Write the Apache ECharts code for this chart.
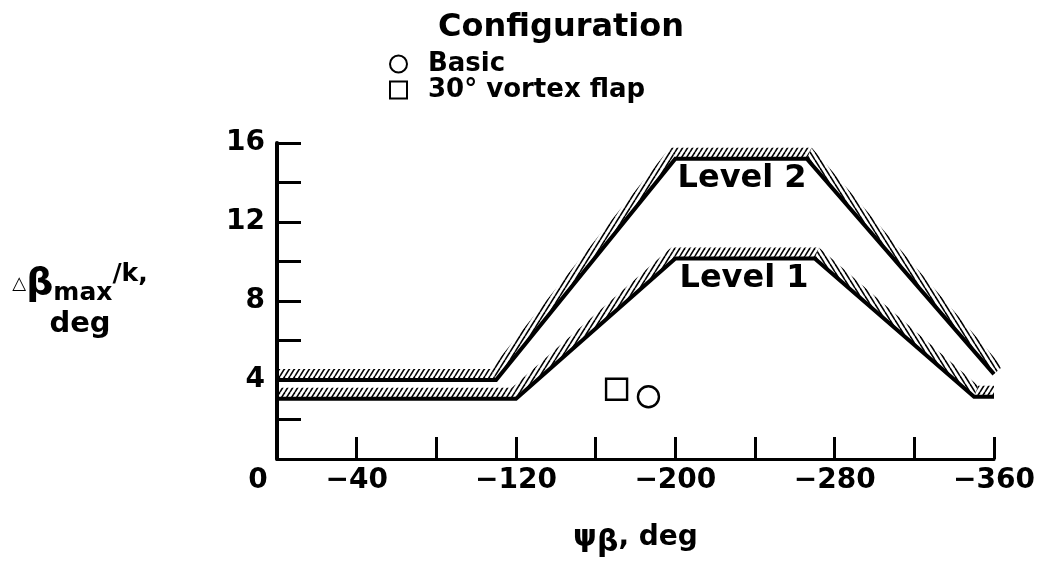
<!DOCTYPE html>
<html>
<head>
<meta charset="utf-8">
<script src="https://cdn.jsdelivr.net/npm/echarts@6/dist/echarts.min.js"></script>
<style>
  html, body { margin: 0; padding: 0; background: #fff; }
  #main { width: 1040px; height: 573px; }
</style>
</head>
<body>
<div id="main"></div>
<script>
// boundary lines (psi in deg, dbeta/k in deg)
const level2 = [[0, 4.0], [-110, 4.0], [-200, 15.2], [-266, 15.2], [-360, 4.3]]
const level1 = [[0, 3.05], [-120, 3.05], [-200, 10.15], [-270, 10.15], [-350, 3.15], [-360, 3.15]]
const basic = [[-186.5, 3.15]]
const vortexFlap = [[-170.5, 3.53]]
const levelNames = ['Level 2', 'Level 1']
const levelLabelPos = [[-233.5, 14.2], [-234.5, 9.15]]
const xTickLabels = [0, -40, -120, -200, -280, -360]
const yTickLabels = [4, 8, 12, 16]

const FONT = 'DejaVu Sans'
const HATCH = 11 // band width in px, outside of the line

// small tiles for the hatched band
function hatch(dir) {
	const w = 5, h = 8
	const c = document.createElement('canvas')
	c.width = w
	c.height = h
	const ctx = c.getContext('2d')
	ctx.strokeStyle = '#000'
	ctx.lineWidth = 1.6
	for (let k = -1; k <= 1; k++) {
		ctx.beginPath()
		if (dir > 0) {
			ctx.moveTo(k * w, h)
			ctx.lineTo(k * w + w, 0)
		} else {
			ctx.moveTo(k * w, 0)
			ctx.lineTo(k * w + w, h)
		}
		ctx.stroke()
	}
	return { image: c, repeat: 'repeat' }
}
const hatchUp = hatch(1)
const hatchDown = hatch(-1)

// hatched band on the outer side of a boundary, one polygon per segment
function bandRenderer(pts) {
	return function (params, api) {
		const i = params.dataIndex
		if (i >= pts.length - 1) return null
		const P = pts.map(p => api.coord(p))
		const normals = []
		for (let k = 0; k < P.length - 1; k++) {
			let dx = P[k + 1][0] - P[k][0], dy = P[k + 1][1] - P[k][1]
			const l = Math.hypot(dx, dy)
			normals.push([dy / l, -dx / l])
		}
		function off(k) {
			if (k === 0) return normals[0].map(v => v * HATCH)
			if (k === P.length - 1) return normals[k - 1].map(v => v * HATCH)
			const a = normals[k - 1], b = normals[k]
			let m = [a[0] + b[0], a[1] + b[1]]
			const l = Math.hypot(m[0], m[1])
			m = [m[0] / l, m[1] / l]
			const len = HATCH / (m[0] * a[0] + m[1] * a[1])
			return [m[0] * len, m[1] * len]
		}
		const o1 = off(i), o2 = off(i + 1)
		const a = P[i], b = P[i + 1]
		const falling = b[1] - a[1] > 0.5
		return {
			type: 'polygon',
			shape: {
				points: [a, b, [b[0] + o2[0], b[1] + o2[1]], [a[0] + o1[0], a[1] + o1[1]]]
			},
			style: { fill: falling ? hatchDown : hatchUp, stroke: null }
		}
	}
}

const chart = echarts.init(document.getElementById('main'))

const option = {
	backgroundColor: '#fff',
	animation: false,
	title: {
		text: 'Configuration',
		left: 433,
		top: 7,
		textStyle: { fontFamily: FONT, fontWeight: 'bold', fontSize: 32, color: '#000' }
	},
	legend: {
		data: ['Basic', '30° vortex flap'],
		orient: 'vertical',
		left: 384,
		top: 46,
		itemWidth: 17,
		itemHeight: 17,
		itemGap: 0,
		textStyle: {
			fontFamily: FONT, fontWeight: 'bold', fontSize: 26, color: '#000',
			lineHeight: 26, padding: [0, 0, 0, 16]
		}
	},
	grid: { left: 277, right: 46, top: 143, bottom: 114 },
	xAxis: {
		type: 'value',
		inverse: true,
		min: -360,
		max: 0,
		interval: 40,
		splitLine: { show: false },
		axisLine: { lineStyle: { color: '#000', width: 3 } },
		axisTick: { inside: true, length: 22, lineStyle: { color: '#000', width: 3 } },
		axisLabel: {
			margin: 8,
			color: '#000',
			fontFamily: FONT,
			fontWeight: 'bold',
			fontSize: 28,
			formatter: function (v) {
				if (xTickLabels.indexOf(v) < 0) return ''
				return v === 0 ? '{z|0}' : '\u2212' + Math.abs(v)
			},
			rich: {
				z: { fontFamily: FONT, fontWeight: 'bold', fontSize: 28, color: '#000', padding: [0, 38, 0, 0] }
			}
		},
		name: '{p|ψ}{b|β}{t|, deg}',
		nameLocation: 'middle',
		nameGap: 59,
		nameTextStyle: {
			rich: {
				p: { fontFamily: FONT, fontWeight: 'bold', fontSize: 30, color: '#000' },
				b: { fontFamily: FONT, fontWeight: 'bold', fontSize: 30, color: '#000', verticalAlign: 'bottom', padding: [10, 0, 0, 0] },
				t: { fontFamily: FONT, fontWeight: 'bold', fontSize: 28, color: '#000' }
			}
		}
	},
	yAxis: {
		type: 'value',
		min: 0,
		max: 16,
		interval: 2,
		splitLine: { show: false },
		axisLine: { lineStyle: { color: '#000', width: 4 } },
		axisTick: { inside: true, length: 24, lineStyle: { color: '#000', width: 3 } },
		axisLabel: {
			margin: 12,
			color: '#000',
			fontFamily: FONT,
			fontWeight: 'bold',
			fontSize: 28,
			formatter: v => (yTickLabels.indexOf(v) >= 0 ? String(v) : '')
		}
	},
	graphic: [{
		type: 'text',
		x: 80,
		y: 262,
		style: {
			text: '{d|△}{b|β}{s|max}{k|/k,}\n{g|deg}',
			align: 'center',
			verticalAlign: 'top',
			fill: '#000',
			rich: {
				d: { fontFamily: FONT, fontSize: 18, fill: '#000', verticalAlign: 'middle' },
				b: { fontFamily: FONT, fontWeight: 'bold', fontSize: 38, fill: '#000', lineHeight: 44 },
				s: { fontFamily: FONT, fontWeight: 'bold', fontSize: 25, fill: '#000', verticalAlign: 'bottom' },
				k: { fontFamily: FONT, fontWeight: 'bold', fontSize: 25, fill: '#000', verticalAlign: 'top' },
				g: { fontFamily: FONT, fontWeight: 'bold', fontSize: 29, fill: '#000', lineHeight: 36 }
			}
		}
	}],
	series: [
		{
			name: 'Level 2 band',
			type: 'custom',
			renderItem: bandRenderer(level2),
			data: level2,
			encode: { x: 0, y: 1 },
			z: 1,
			silent: true
		},
		{
			name: 'Level 1 band',
			type: 'custom',
			renderItem: bandRenderer(level1),
			data: level1,
			encode: { x: 0, y: 1 },
			z: 1,
			silent: true
		},
		{
			name: 'Level 2',
			type: 'line',
			data: level2,
			symbol: 'none',
			lineStyle: { color: '#000', width: 4, join: 'miter' },
			z: 3
		},
		{
			name: 'Level 1',
			type: 'line',
			data: level1,
			symbol: 'none',
			lineStyle: { color: '#000', width: 4, join: 'miter' },
			z: 3
		},
		{
			name: 'level labels',
			type: 'scatter',
			data: levelLabelPos.map((p, i) => ({ value: p, name: levelNames[i] })),
			symbolSize: 0,
			itemStyle: { opacity: 1 },
			label: {
				show: true,
				position: 'inside',
				formatter: '{b}',
				color: '#000',
				fontFamily: FONT,
				fontWeight: 'bold',
				fontSize: 32
			},
			z: 4
		},
		{
			name: 'Basic',
			type: 'scatter',
			data: basic,
			symbol: 'circle',
			symbolSize: 21,
			itemStyle: { color: '#fff', borderColor: '#000', borderWidth: 2.4, opacity: 1 },
			z: 5
		},
		{
			name: '30° vortex flap',
			type: 'scatter',
			data: vortexFlap,
			symbol: 'rect',
			symbolSize: 21,
			itemStyle: { color: '#fff', borderColor: '#000', borderWidth: 2.4, opacity: 1 },
			z: 5
		}
	]
}

chart.setOption(option)
</script>
</body>
</html>
